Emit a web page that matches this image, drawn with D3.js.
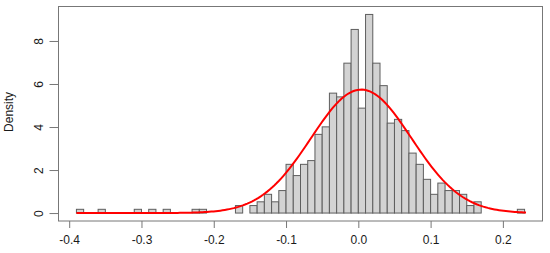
<!DOCTYPE html>
<html>
<head>
<meta charset="utf-8">
<script src="https://cdn.jsdelivr.net/npm/d3@7"></script>
<style>
  body { margin: 0; background: #fff; }
  text { font-family: "Liberation Sans", Arial, sans-serif; fill: #1a1a1a; }
</style>
</head>
<body>
<div id="chart"></div>
<script>
// histogram: counts per 0.01 bin, first bin starts at -0.39
var breakStart = -0.39;
var binWidth = 0.01;
var counts = [
  1, 0, 0, 1, 0, 0, 0, 0, 1, 0,
  1, 0, 1, 0, 0, 0, 1, 1, 0, 0,
  0, 0, 2, 0, 2, 3, 5, 3, 6, 13,
  10, 13, 14, 21, 23, 32, 31, 40, 49, 28,
  53, 40, 34, 24, 25, 22, 16, 13, 9, 5,
  8, 6, 6, 5, 2, 3, 0, 0, 0, 0,
  0, 1
];
var xTicks = [-0.4, -0.3, -0.2, -0.1, 0.0, 0.1, 0.2];
var yTicks = [0, 2, 4, 6, 8];

// fitted normal curve
var fitMean = 0.004;
var fitSd = 0.0695;
var curveFrom = -0.39;
var curveTo = 0.232;

var width = 550, height = 253;
var margin = {left: 58.5, right: 7.5, top: 6.5, bottom: 32};

var total = d3.sum(counts);
var bins = counts.map(function(c, i) {
  var lo = breakStart + i * binWidth;
  return {x0: lo, x1: lo + binWidth, density: c / (total * binWidth)};
});

var xMin = breakStart, xMax = breakStart + counts.length * binWidth;
var xPad = (xMax - xMin) * 0.04;
var yMax = d3.max(bins, function(d) { return d.density; });

var x = d3.scaleLinear()
  .domain([xMin - xPad, xMax + xPad])
  .range([margin.left, width - margin.right]);
var y = d3.scaleLinear()
  .domain([-0.04 * yMax, 1.04 * yMax])
  .range([height - margin.bottom, margin.top]);

var svg = d3.select("#chart").append("svg")
  .attr("width", width)
  .attr("height", height);

// bars
svg.append("g").selectAll("rect")
  .data(bins)
  .enter().append("rect")
  .attr("x", function(d) { return x(d.x0); })
  .attr("y", function(d) { return y(d.density); })
  .attr("width", function(d) { return x(d.x1) - x(d.x0); })
  .attr("height", function(d) { return y(0) - y(d.density); })
  .attr("fill", "#d3d3d3")
  .attr("stroke", "#5e5e5e")
  .attr("stroke-width", 1);

// normal density
var curvePts = d3.range(0, 201).map(function(i) {
  var v = curveFrom + (curveTo - curveFrom) * i / 200;
  var z = (v - fitMean) / fitSd;
  return [v, Math.exp(-0.5 * z * z) / (fitSd * Math.sqrt(2 * Math.PI))];
});
svg.append("path")
  .datum(curvePts)
  .attr("fill", "none")
  .attr("stroke", "#ff0000")
  .attr("stroke-width", 2)
  .attr("d", d3.line()
    .x(function(d) { return x(d[0]); })
    .y(function(d) { return y(d[1]); }));

// box
svg.append("rect")
  .attr("x", margin.left)
  .attr("y", margin.top)
  .attr("width", width - margin.left - margin.right)
  .attr("height", height - margin.bottom - margin.top)
  .attr("fill", "none")
  .attr("stroke", "#777")
  .attr("stroke-width", 1);

// x axis
var xAxis = svg.append("g")
  .attr("transform", "translate(0," + (height - margin.bottom) + ")")
  .call(d3.axisBottom(x).tickValues(xTicks).tickSize(7).tickPadding(7)
    .tickFormat(d3.format(".1f")));
xAxis.select(".domain").remove();
xAxis.selectAll("line").attr("stroke", "#777");
xAxis.selectAll("text")
  .style("font-size", "12px")
  .attr("fill", "#1a1a1a")
  .text(function(d) { return d3.format(".1f")(d).replace("\u2212", "-"); });

// y axis, labels parallel to axis
var yAxis = svg.append("g")
  .attr("transform", "translate(" + margin.left + ",0)")
  .call(d3.axisLeft(y).tickValues(yTicks).tickSize(9).tickFormat(d3.format("d")));
yAxis.select(".domain").remove();
yAxis.selectAll("line").attr("stroke", "#777");
yAxis.selectAll("text")
  .style("font-size", "12px")
  .attr("fill", "#1a1a1a")
  .attr("x", null).attr("dy", null)
  .attr("text-anchor", "middle")
  .attr("transform", "translate(-20,0) rotate(-90)")
  .attr("y", 0)
  .attr("dominant-baseline", "central");

svg.append("text")
  .attr("transform", "translate(9," + y(4.7) + ") rotate(-90)")
  .attr("text-anchor", "middle")
  .attr("dominant-baseline", "central")
  .style("font-size", "12px")
  .text("Density");
</script>
</body>
</html>
